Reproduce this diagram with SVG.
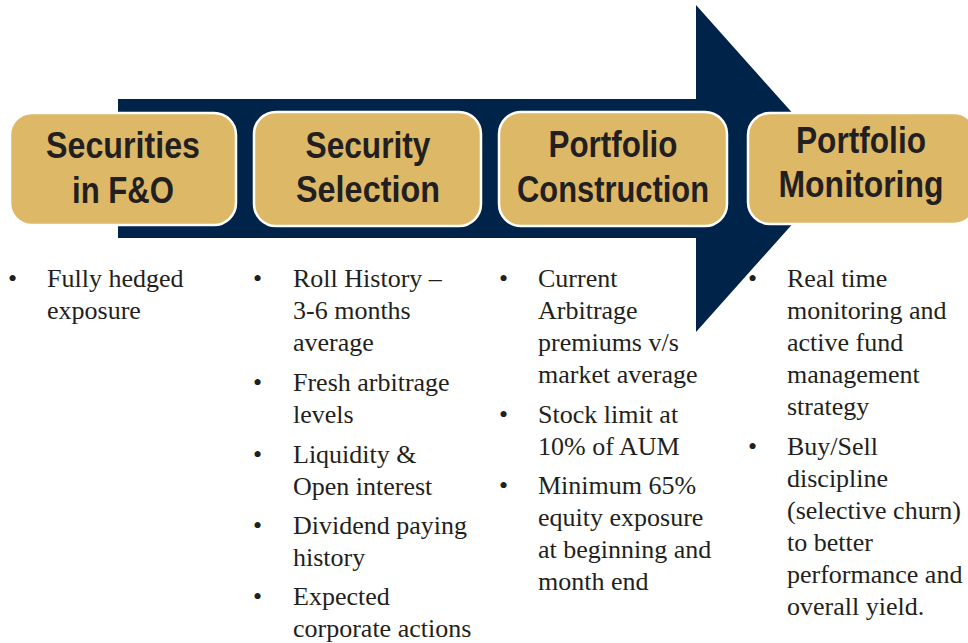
<svg xmlns="http://www.w3.org/2000/svg" width="968" height="643" viewBox="0 0 968 643">
<style>
.box{fill:#DDB967;stroke:#ffffff;stroke-width:2.5}
.h{font-family:"Liberation Sans Narrow","Liberation Sans",Arial,sans-serif;font-weight:bold;font-size:37.5px;fill:#231F20;text-anchor:middle}
.b text{font-family:"Liberation Serif","DejaVu Serif",serif;font-size:26px;fill:#231F20}
</style>
<rect width="968" height="643" fill="#ffffff"/>
<g id="arrow">
<path d="M118,99 H696 V5 L842,168.5 L696,332 V238 H118 Z" fill="#00234A"/>
</g>
<g id="node1">
<rect class="box" x="10" y="113" width="226" height="112" rx="22"/>
<text class="h" x="123" y="158" textLength="154" lengthAdjust="spacingAndGlyphs">Securities</text>
<text class="h" x="123" y="203" textLength="102" lengthAdjust="spacingAndGlyphs">in F&amp;O</text>
</g>
<g id="node2">
<rect class="box" x="254" y="112" width="227" height="114" rx="22"/>
<text class="h" x="368" y="158" textLength="125" lengthAdjust="spacingAndGlyphs">Security</text>
<text class="h" x="368" y="202" textLength="144" lengthAdjust="spacingAndGlyphs">Selection</text>
</g>
<g id="node3">
<rect class="box" x="499" y="112" width="228" height="114" rx="22"/>
<text class="h" x="613" y="157" textLength="129" lengthAdjust="spacingAndGlyphs">Portfolio</text>
<text class="h" x="613" y="202" textLength="192" lengthAdjust="spacingAndGlyphs">Construction</text>
</g>
<g id="node4">
<rect class="box" x="748" y="113" width="228" height="111" rx="22"/>
<text class="h" x="861" y="153" textLength="130" lengthAdjust="spacingAndGlyphs">Portfolio</text>
<text class="h" x="861" y="197" textLength="165" lengthAdjust="spacingAndGlyphs">Monitoring</text>
</g>
<g id="connectors"></g>
<g id="list1" class="b">
<text x="8" y="287">•</text>
<text x="47" y="287">Fully hedged</text>
<text x="47" y="319">exposure</text>
</g>
<g id="list2" class="b">
<text x="253" y="287">•</text>
<text x="293" y="287">Roll History –</text>
<text x="293" y="319">3-6 months</text>
<text x="293" y="351">average</text>
<text x="253" y="391">•</text>
<text x="293" y="391">Fresh arbitrage</text>
<text x="293" y="423">levels</text>
<text x="253" y="463">•</text>
<text x="293" y="463">Liquidity &amp;</text>
<text x="293" y="495">Open interest</text>
<text x="253" y="534">•</text>
<text x="293" y="534">Dividend paying</text>
<text x="293" y="566">history</text>
<text x="253" y="605">•</text>
<text x="293" y="605">Expected</text>
<text x="293" y="637">corporate actions</text>
</g>
<g id="list3" class="b">
<text x="499" y="287">•</text>
<text x="538" y="287">Current</text>
<text x="538" y="319">Arbitrage</text>
<text x="538" y="351">premiums v/s</text>
<text x="538" y="383">market average</text>
<text x="499" y="423">•</text>
<text x="538" y="423">Stock limit at</text>
<text x="538" y="455">10% of AUM</text>
<text x="499" y="494">•</text>
<text x="538" y="494">Minimum 65%</text>
<text x="538" y="526">equity exposure</text>
<text x="538" y="558">at beginning and</text>
<text x="538" y="590">month end</text>
</g>
<g id="list4" class="b">
<text x="748" y="287">•</text>
<text x="787" y="287">Real time</text>
<text x="787" y="319">monitoring and</text>
<text x="787" y="351">active fund</text>
<text x="787" y="383">management</text>
<text x="787" y="415">strategy</text>
<text x="748" y="455">•</text>
<text x="787" y="455">Buy/Sell</text>
<text x="787" y="487">discipline</text>
<text x="787" y="519">(selective churn)</text>
<text x="787" y="551">to better</text>
<text x="787" y="583">performance and</text>
<text x="787" y="615">overall yield.</text>
</g>
</svg>
